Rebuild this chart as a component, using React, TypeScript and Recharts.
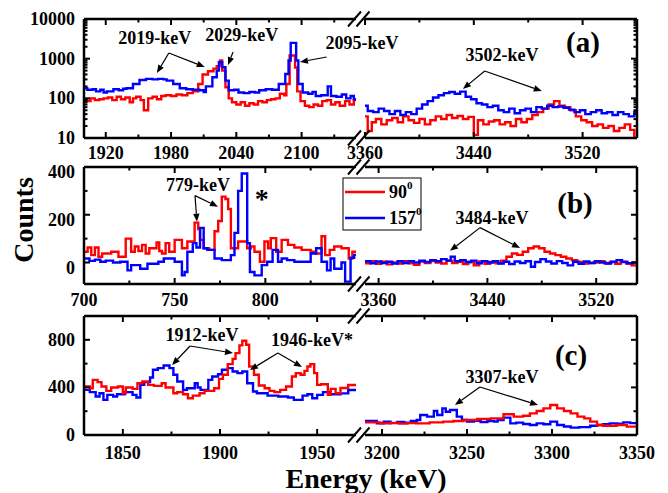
import React from 'react';
import { LineChart, Line, XAxis, YAxis, ReferenceLine, ReferenceDot } from 'recharts';

const W = 668;
const H = 493;
const FONT = '"Liberation Serif", "Times New Roman", Times, serif';
const RED = '#ff0000';
const BLUE = '#0000ff';

// ---- axis ticks
const aLeftTicks = [1920, 1950, 1980, 2010, 2040, 2070, 2100, 2130];
const aLeftMajor = [1920, 1980, 2040, 2100];
const aRightTicks = [3360, 3400, 3440, 3480, 3520];
const aRightMajor = [3360, 3440, 3520];
const aYTicks = [10, 20, 30, 40, 50, 60, 70, 80, 90, 100, 200, 300, 400, 500, 600, 700, 800, 900, 1000, 2000, 3000, 4000, 5000, 6000, 7000, 8000, 9000, 10000];
const aYMajor = [10, 100, 1000, 10000];
const bLeftTicks = [700, 725, 750, 775, 800, 825];
const bLeftMajor = [700, 750, 800];
const bRightTicks = [3360, 3400, 3440, 3480, 3520];
const bRightMajor = [3360, 3440, 3520];
const bYTicks = [0, 100, 200, 300, 400];
const bYMajor = [0, 200, 400];
const cLeftTicks = [1850, 1875, 1900, 1925, 1950];
const cLeftMajor = [1850, 1900, 1950];
const cRightTicks = [3200, 3225, 3250, 3275, 3300, 3325, 3350];
const cRightMajor = [3200, 3250, 3300, 3350];
const cYTicks = [0, 200, 400, 600, 800];
const cYMajor = [0, 400, 800];

// ---- (a) 2019/2029/2095 region, log counts
const aLeftRedE = [1900, 1903, 1906, 1910, 1914, 1918, 1922, 1926, 1930, 1934, 1938, 1942, 1945, 1948, 1952, 1955, 1959, 1963, 1967, 1971, 1975, 1980, 1985, 1990, 1995, 2000, 2005, 2009, 2014, 2019, 2022, 2025, 2027, 2030, 2033, 2036, 2040, 2044, 2048, 2052, 2056, 2060, 2064, 2068, 2072, 2076, 2080, 2084, 2086, 2089, 2094, 2096, 2099, 2103, 2107, 2111, 2115, 2119, 2123, 2127, 2131, 2135, 2140, 2144, 2148];
const aLeftRed = [95, 85, 100, 90, 95, 100, 105, 90, 110, 95, 105, 80, 100, 110, 90, 50, 100, 110, 95, 115, 120, 115, 125, 120, 135, 150, 230, 400, 480, 560, 650, 900, 500, 190, 100, 80, 70, 80, 65, 75, 70, 85, 80, 90, 95, 100, 130, 120, 230, 1200, 600, 150, 85, 65, 60, 70, 65, 85, 90, 70, 80, 65, 85, 70, 90];
const aLeftBlueE = [1900, 1903, 1908, 1911, 1915, 1918, 1921, 1927, 1932, 1936, 1939, 1945, 1951, 1957, 1963, 1968, 1973, 1976, 1982, 1988, 1994, 2000, 2006, 2010, 2012, 2018, 2022, 2024, 2027, 2030, 2033, 2038, 2042, 2047, 2052, 2057, 2061, 2067, 2073, 2079, 2085, 2088, 2090, 2095, 2097, 2101, 2106, 2110, 2113, 2118, 2124, 2127, 2132, 2137, 2141, 2145, 2148];
const aLeftBlue = [180, 165, 170, 150, 165, 140, 150, 170, 160, 175, 180, 230, 290, 310, 300, 310, 300, 280, 230, 180, 170, 165, 160, 145, 200, 340, 500, 820, 610, 280, 160, 165, 140, 135, 145, 140, 160, 170, 165, 230, 410, 900, 2500, 900, 230, 140, 130, 145, 115, 120, 200, 115, 110, 125, 100, 115, 95];

// ---- (a) 3502 region
const aRightRedE = [3360, 3362, 3365, 3368, 3372, 3376, 3380, 3384, 3388, 3392, 3396, 3400, 3404, 3408, 3412, 3416, 3420, 3424, 3428, 3432, 3436, 3440, 3443, 3447, 3451, 3455, 3459, 3463, 3467, 3471, 3475, 3479, 3483, 3487, 3491, 3495, 3499, 3503, 3507, 3511, 3515, 3519, 3523, 3527, 3531, 3535, 3539, 3543, 3547, 3551, 3555, 3558];
const aRightRed = [35, 15, 25, 30, 22, 28, 32, 25, 35, 28, 24, 30, 22, 28, 35, 30, 38, 32, 36, 30, 34, 12, 28, 22, 26, 28, 22, 25, 20, 30, 25, 30, 38, 45, 55, 70, 85, 65, 60, 50, 35, 28, 25, 20, 22, 18, 20, 15, 18, 22, 16, 10];
const aRightBlueE = [3360, 3362, 3366, 3370, 3374, 3378, 3382, 3386, 3390, 3394, 3398, 3402, 3406, 3410, 3414, 3418, 3422, 3426, 3430, 3434, 3438, 3442, 3446, 3450, 3454, 3458, 3462, 3466, 3470, 3474, 3478, 3482, 3486, 3490, 3494, 3498, 3502, 3506, 3510, 3514, 3518, 3522, 3526, 3530, 3534, 3538, 3542, 3546, 3550, 3554, 3558];
const aRightBlue = [65, 48, 45, 55, 48, 40, 48, 38, 45, 40, 55, 70, 85, 105, 120, 135, 145, 130, 148, 110, 95, 75, 70, 60, 65, 50, 45, 55, 42, 50, 55, 45, 60, 55, 65, 60, 62, 58, 52, 45, 50, 40, 45, 50, 42, 45, 38, 45, 40, 35, 45];

// ---- (b) 779 region
const bLeftRedE = [700, 702, 704, 706, 708, 710, 715, 719, 723, 726, 728, 730, 732, 734, 736, 740, 741.5, 743, 745, 747, 750, 754, 757, 761, 763, 764, 766, 769, 772, 774, 776, 778, 779.5, 781, 785, 790, 792, 794, 797, 799.5, 801.5, 803, 806, 809, 812.5, 816, 820, 825, 828, 831, 833, 835.5, 838, 842, 846, 848];
const bLeftRed = [45, 63, 31, 63, 24, 38, 45, 24, 100, 45, 67, 48, 74, 38, 60, 84, 48, 38, 81, 45, 95, 60, 88, 167, 140, 95, 60, 53, 131, 174, 276, 266, 224, 60, 88, 60, 67, 45, 3, 88, 60, 102, 45, 95, 74, 63, 53, 45, 38, 110, 31, 53, 67, 60, 17, 45];
const bLeftBlueE = [700, 703, 706, 709, 712, 716, 720, 724, 726, 731, 735, 741, 744, 750, 754, 755.5, 757, 760, 762, 764, 766, 768, 772, 776, 781, 783, 785, 787, 790, 791.5, 794, 798, 801, 804, 807, 809, 812, 816, 820, 825, 828, 831, 834, 836, 838, 842, 844, 847, 849];
const bLeftBlue = [17, 7, 12, 3, 8, 0, 3, -33, -11, -26, -5, 3, 17, 3, -54, -40, 45, 81, 63, 145, 60, 53, 17, 10, 31, 124, 300, 373, 81, -40, -54, -11, 3, 53, 3, 17, 10, 3, 3, 38, 60, 3, -33, 17, -26, 0, -80, 20, 32];

// ---- (b) 3484 region
const bRightRedE = [3350, 3354, 3358, 3362, 3366, 3370, 3374, 3378, 3382, 3386, 3390, 3394, 3398, 3402, 3406, 3410, 3414, 3418, 3422, 3426, 3430, 3434, 3438, 3442, 3446, 3450, 3454, 3458, 3462, 3466, 3470, 3474, 3478, 3482, 3486, 3490, 3494, 3498, 3502, 3506, 3510, 3514, 3518, 3522, 3526, 3530, 3534, 3538, 3542, 3546];
const bRightRed = [-3, 6, -5, 3, -8, 0, -4, 5, -3, -10, 4, -2, 6, 0, -4, 8, -2, 3, -6, 2, -12, 4, -5, 2, -3, 8, 24, 38, 32, 45, 60, 67, 60, 45, 38, 31, 24, 17, 10, 2, -4, -2, 0, 5, -3, 2, -5, 3, -4, -12];
const bRightBlueE = [3350, 3354, 3358, 3362, 3366, 3370, 3374, 3378, 3382, 3386, 3390, 3394, 3398, 3402, 3406, 3410, 3413, 3416, 3420, 3424, 3428, 3432, 3436, 3440, 3444, 3448, 3452, 3456, 3460, 3464, 3468, 3472, 3475, 3479, 3483, 3487, 3491, 3495, 3499, 3503, 3507, 3511, 3515, 3519, 3523, 3527, 3531, 3535, 3539, 3543, 3547];
const bRightBlue = [5, -3, 4, -2, 3, -4, 5, -2, 6, 0, 8, 2, 10, 5, 14, 8, 24, 6, 10, 2, 8, -3, 6, 0, 5, -4, 3, -6, 4, -2, 5, -18, 2, 14, 4, -4, 6, -2, -12, 3, -5, 4, -2, 5, 0, -4, 3, 10, 2, -3, 0];

// ---- (c) 1912/1946 region
const cLeftRedE = [1830, 1833, 1834.5, 1837, 1839, 1841.5, 1844, 1847.5, 1850, 1851.5, 1855, 1857.5, 1860, 1863, 1866, 1870, 1872, 1876, 1878, 1881, 1883.5, 1886, 1889.5, 1892, 1897, 1899.5, 1901.5, 1904, 1906.5, 1908, 1910, 1911.5, 1913.5, 1915, 1917.5, 1920, 1923, 1925.5, 1928, 1931, 1934, 1937, 1939, 1941.5, 1943.5, 1945, 1946.5, 1948.5, 1950, 1952, 1955.5, 1957, 1959.5, 1962, 1966];
const cLeftRed = [407, 393, 463, 444, 407, 371, 399, 407, 351, 399, 388, 435, 449, 421, 413, 435, 399, 351, 360, 343, 309, 331, 351, 371, 393, 472, 506, 596, 640, 688, 753, 792, 758, 576, 506, 416, 393, 371, 360, 379, 407, 492, 520, 506, 539, 576, 596, 520, 421, 427, 337, 388, 351, 395, 420];
const cLeftBlueE = [1830, 1833, 1836, 1838, 1840, 1842, 1845, 1847, 1851, 1855, 1857, 1859, 1861, 1864, 1865.5, 1868, 1871, 1874, 1876, 1878, 1881, 1883, 1887, 1888.5, 1890, 1894, 1896, 1899, 1901, 1904, 1906.5, 1909, 1911.5, 1914, 1917, 1919, 1924.5, 1930, 1935, 1938, 1942.5, 1945, 1947.5, 1950, 1953, 1957, 1962, 1966];
const cLeftBlue = [379, 360, 323, 351, 295, 337, 323, 343, 360, 337, 315, 421, 444, 483, 548, 562, 584, 562, 506, 449, 379, 393, 435, 399, 379, 463, 492, 511, 548, 562, 534, 520, 534, 435, 365, 351, 331, 323, 315, 295, 331, 343, 309, 337, 360, 343, 350, 378];

// ---- (c) 3307 region
const cRightRedE = [3190, 3199, 3205, 3210, 3215, 3220, 3228, 3236, 3242, 3248, 3256, 3264, 3271.5, 3277.5, 3283, 3287, 3291, 3295, 3299, 3303, 3307, 3311, 3315, 3319, 3322.5, 3326.5, 3330, 3338, 3344];
const cRightRed = [106, 98, 102, 96, 100, 98, 106, 112, 118, 126, 134, 140, 174, 154, 162, 182, 202, 224, 252, 224, 202, 182, 154, 140, 112, 84, 78, 84, 70];
const cRightBlueE = [3190, 3197, 3201, 3205, 3209, 3213, 3217, 3220.5, 3222.5, 3226.5, 3230.5, 3232.5, 3235.5, 3237.5, 3240, 3244, 3247, 3250, 3254, 3258, 3262, 3266, 3268, 3271.5, 3275.5, 3279, 3283, 3287, 3291, 3295, 3299, 3303, 3307, 3311, 3316, 3322.5, 3326.5, 3330, 3334, 3338, 3342, 3346];
const cRightBlue = [118, 98, 112, 100, 110, 104, 118, 126, 168, 154, 202, 168, 224, 196, 210, 154, 126, 112, 120, 108, 118, 112, 126, 146, 98, 104, 92, 84, 98, 90, 112, 84, 72, 62, 66, 78, 84, 90, 98, 94, 106, 100];

// histogram bins -> points, last bin closed at the range end
function steps(e: number[], v: number[], end: number) {
  const pts = e.map((x, i) => ({ e: x, v: v[i] }));
  pts.push({ e: end, v: v[v.length - 1] });
  return pts;
}

type Note = { e: number; v: number; t: string; size?: number };
type Half = {
  box: [number, number, number, number];
  side: 'left' | 'right';
  xDomain: [number, number];
  xTicks: number[];
  xMajor: number[];
  xLabelDy: number;
  yDomain: [number, number];
  yTicks: number[];
  yMajor: number[];
  yLabelDy: number;
  log?: boolean;
  series: { data: { e: number; v: number }[]; color: string }[];
  arrows: number[][];
  notes: Note[];
};

const halves: Half[] = [
  {
    box: [84, 19, 356, 138], side: 'left', xDomain: [1900, 2150], xTicks: aLeftTicks, xMajor: aLeftMajor, xLabelDy: 15,
    yDomain: [10, 10000], yTicks: aYTicks, yMajor: aYMajor, yLabelDy: 0, log: true,
    series: [{ data: steps(aLeftRedE, aLeftRed, 2150), color: RED }, { data: steps(aLeftBlueE, aLeftBlue, 2150), color: BLUE }],
    arrows: [[1978, 1390, 1967, 436], [1978, 1390, 2011, 617], [2037, 1472, 2032.4, 692], [2123, 1101, 2098.5, 824]],
    notes: [{ e: 1965, v: 3320, t: '2019-keV' }, { e: 2045, v: 3950, t: '2029-keV' }, { e: 2155.5, v: 2485, t: '2095-keV' }],
  },
  {
    box: [365, 19, 637, 138], side: 'right', xDomain: [3360, 3560], xTicks: aRightTicks, xMajor: aRightMajor, xLabelDy: 15,
    yDomain: [10, 10000], yTicks: aYTicks, yMajor: aYMajor, yLabelDy: 0, log: true,
    series: [{ data: steps(aRightRedE, aRightRed, 3560), color: RED }, { data: steps(aRightBlueE, aRightBlue, 3560), color: BLUE }],
    arrows: [[3448, 489, 3432, 172], [3448, 489, 3490, 153]],
    notes: [{ e: 3460.7, v: 1239, t: '3502-keV' }, { e: 3520.3, v: 2630, t: '(a)', size: 29 }],
  },
  {
    box: [84, 167, 356, 284], side: 'left', xDomain: [700, 850], xTicks: bLeftTicks, xMajor: bLeftMajor, xLabelDy: 16,
    yDomain: [-90, 400], yTicks: bYTicks, yMajor: bYMajor, yLabelDy: 5,
    series: [{ data: steps(bLeftRedE, bLeftRed, 850), color: RED }, { data: steps(bLeftBlueE, bLeftBlue, 850), color: BLUE }],
    arrows: [[761.2, 280, 762.3, 171], [761.2, 280, 773.9, 234]],
    notes: [{ e: 762.9, v: 326, t: '779-keV' }, { e: 798, v: 268, t: '*', size: 28 }],
  },
  {
    box: [365, 167, 637, 284], side: 'right', xDomain: [3350, 3550], xTicks: bRightTicks, xMajor: bRightMajor, xLabelDy: 16,
    yDomain: [-90, 400], yTicks: bYTicks, yMajor: bYMajor, yLabelDy: 5,
    series: [{ data: steps(bRightRedE, bRightRed, 3550), color: RED }, { data: steps(bRightBlueE, bRightBlue, 3550), color: BLUE }],
    arrows: [[3434.6, 146, 3412.5, 49], [3434.6, 146, 3464, 61]],
    notes: [{ e: 3443.4, v: 188, t: '3484-keV' }, { e: 3504.4, v: 251, t: '(b)', size: 29 }],
  },
  {
    box: [84, 316, 356, 435], side: 'left', xDomain: [1830, 1970], xTicks: cLeftTicks, xMajor: cLeftMajor, xLabelDy: 18,
    yDomain: [0, 1000], yTicks: cYTicks, yMajor: cYMajor, yLabelDy: 0,
    series: [{ data: steps(cLeftBlueE, cLeftBlue, 1970), color: BLUE }, { data: steps(cLeftRedE, cLeftRed, 1970), color: RED }],
    arrows: [[1884.6, 748, 1875.3, 588], [1884.6, 748, 1906.7, 689], [1929.8, 689, 1915.4, 546], [1929.8, 689, 1942.2, 571]],
    notes: [{ e: 1890.7, v: 840, t: '1912-keV' }, { e: 1947.3, v: 798, t: '1946-keV*' }],
  },
  {
    box: [365, 316, 637, 435], side: 'right', xDomain: [3190, 3350], xTicks: cRightTicks, xMajor: cRightMajor, xLabelDy: 18,
    yDomain: [0, 1000], yTicks: cYTicks, yMajor: cYMajor, yLabelDy: 0,
    series: [{ data: steps(cRightBlueE, cRightBlue, 3350), color: BLUE }, { data: steps(cRightRedE, cRightRed, 3350), color: RED }],
    arrows: [[3257.6, 403, 3242.9, 252], [3257.6, 403, 3291.8, 252]],
    notes: [{ e: 3270.6, v: 487, t: '3307-keV' }, { e: 3311.2, v: 672, t: '(c)', size: 29 }],
  },
];

const labelStyle = { fontFamily: FONT, fontWeight: 'bold' as const, fill: '#000' };

// inward ticks, labels only on the major ones
const xTick = (major: number[], top: boolean, dy: number) => (p: any) => {
  const v = p.payload.value;
  const big = major.includes(v);
  const len = big ? 6 : 3.5;
  return (
    <g>
      <line x1={p.x} x2={p.x} y1={p.y} y2={top ? p.y + len : p.y - len} stroke="#000" strokeWidth={2} />
      {!top && big && (
        <text x={p.x} y={p.y + dy} textAnchor="middle" dominantBaseline="central" fontSize={18} {...labelStyle}>{v}</text>
      )}
    </g>
  );
};

const yTick = (major: number[], right: boolean, dy: number) => (p: any) => {
  const v = p.payload.value;
  const big = major.includes(v);
  const len = big ? 6 : 3.5;
  return (
    <g>
      <line x1={p.x} x2={right ? p.x - len : p.x + len} y1={p.y} y2={p.y} stroke="#000" strokeWidth={2} />
      {!right && big && (
        <text x={p.x - 9} y={p.y + dy} textAnchor="end" dominantBaseline="central" fontSize={18} {...labelStyle}>{v}</text>
      )}
    </g>
  );
};

const arrowShape = (p: any) => {
  const { x1, y1, x2, y2 } = p;
  const a = Math.atan2(y2 - y1, x2 - x1);
  const L = 8;
  const w = 3.2;
  const bx = x2 - L * Math.cos(a);
  const by = y2 - L * Math.sin(a);
  const pts = `${x2},${y2} ${bx - w * Math.sin(a)},${by + w * Math.cos(a)} ${bx + w * Math.sin(a)},${by - w * Math.cos(a)}`;
  return (
    <g>
      <line x1={x1} y1={y1} x2={bx} y2={by} stroke="#000" strokeWidth={1.2} />
      <polygon points={pts} fill="#000" />
    </g>
  );
};

// axes need a non-zero size to be drawn, so they get 1px and the margins shrink by 1
function HalfChart({ h }: { h: Half }) {
  const [l, t, r, b] = h.box;
  const right = h.side === 'right';
  const axisLine = { stroke: '#000', strokeWidth: 2.5 };
  const margin = right
    ? { top: t - 1, left: l, right: W - r - 1, bottom: H - b - 1 }
    : { top: t - 1, left: l - 1, right: W - r, bottom: H - b - 1 };
  return (
    <div style={{ position: 'absolute', left: 0, top: 0 }}>
      <LineChart width={W} height={H} margin={margin}>
        <XAxis
          type="number"
          dataKey="e"
          domain={h.xDomain}
          allowDataOverflow
          ticks={h.xTicks}
          interval={0}
          height={1}
          tickSize={0}
          tickMargin={0}
          tickLine={false}
          axisLine={axisLine}
          tick={xTick(h.xMajor, false, h.xLabelDy)}
        />
        <XAxis
          xAxisId="top"
          orientation="top"
          type="number"
          dataKey="e"
          domain={h.xDomain}
          allowDataOverflow
          ticks={h.xTicks}
          interval={0}
          height={1}
          tickSize={0}
          tickMargin={0}
          tickLine={false}
          axisLine={axisLine}
          tick={xTick(h.xMajor, true, 0)}
        />
        <YAxis
          orientation={right ? 'right' : 'left'}
          type="number"
          scale={h.log ? 'log' : 'auto'}
          domain={h.yDomain}
          allowDataOverflow
          ticks={h.yTicks}
          interval={0}
          width={1}
          tickSize={0}
          tickMargin={0}
          tickLine={false}
          axisLine={axisLine}
          tick={yTick(h.yMajor, right, h.yLabelDy)}
        />
        {h.series.map((s, i) => (
          <Line
            key={i}
            data={s.data}
            dataKey="v"
            type="stepAfter"
            stroke={s.color}
            strokeWidth={2.4}
            dot={false}
            activeDot={false}
            isAnimationActive={false}
          />
        ))}
        {h.arrows.map((a, i) => (
          <ReferenceLine
            key={'a' + i}
            segment={[{ x: a[0], y: a[1] }, { x: a[2], y: a[3] }]}
            ifOverflow="visible"
            shape={arrowShape}
          />
        ))}
        {h.notes.map((n, i) => (
          <ReferenceDot
            key={'n' + i}
            x={n.e}
            y={n.v}
            r={0}
            ifOverflow="visible"
            shape={(p: any) => (
              <text x={p.cx} y={p.cy} textAnchor="middle" dominantBaseline="central" fontSize={n.size || 18} {...labelStyle}>
                {n.t}
              </text>
            )}
          />
        ))}
      </LineChart>
    </div>
  );
}

const breakYs = [19, 138, 167, 284, 316, 435];

export default function App() {
  return (
    <div style={{ position: 'absolute', left: 0, top: 0, width: W, height: H, background: '#fff', overflow: 'hidden' }}>
      {halves.map((h, i) => (
        <HalfChart key={i} h={h} />
      ))}
      <svg width={W} height={H} style={{ position: 'absolute', left: 0, top: 0 }}>
        {breakYs.map((y) => (
          <g key={y} stroke="#000" strokeWidth={2}>
            <line x1={348} y1={y + 7.5} x2={361} y2={y - 7.5} />
            <line x1={356.5} y1={y + 7.5} x2={369.5} y2={y - 7.5} />
          </g>
        ))}
        <text x={23} y={220} transform="rotate(-90 23 220)" textAnchor="middle" dominantBaseline="central" fontSize={28} {...labelStyle}>
          Counts
        </text>
        <text x={366} y={478} textAnchor="middle" dominantBaseline="central" fontSize={28} {...labelStyle}>
          Energy (keV)
        </text>
        <g>
          <rect x={343} y={178} width={78} height={52} fill="#fff" stroke="#000" strokeWidth={1} />
          <line x1={345} x2={385} y1={192} y2={192} stroke={RED} strokeWidth={2.4} />
          <text x={389} y={192} dominantBaseline="central" fontSize={18} {...labelStyle}>
            90<tspan dy={-7} fontSize={11}>0</tspan>
          </text>
          <line x1={345} x2={385} y1={218} y2={218} stroke={BLUE} strokeWidth={2.4} />
          <text x={389} y={218} dominantBaseline="central" fontSize={18} {...labelStyle}>
            157<tspan dy={-7} fontSize={11}>0</tspan>
          </text>
        </g>
      </svg>
    </div>
  );
}
